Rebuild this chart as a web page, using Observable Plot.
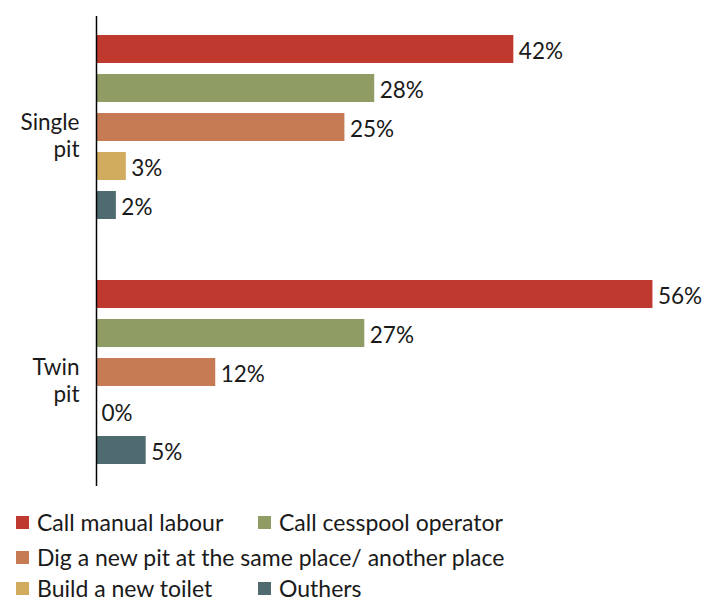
<!DOCTYPE html>
<html>
<head>
<meta charset="utf-8">
<script src="https://cdn.jsdelivr.net/npm/d3@7"></script>
<script src="https://cdn.jsdelivr.net/npm/@observablehq/plot@0.6"></script>
<style>
  body { margin: 0; background: #fff; font-family: Lato, "Open Sans", sans-serif; }
  #chart { position: relative; width: 721px; height: 500px; }
  .legend { position: relative; width: 721px; height: 102px; font-size: 23px; color: #1a1a1a; }
  .row { position: absolute; left: 16px; display: flex; align-items: center; height: 24px; line-height: 24px; }
  .item { display: flex; align-items: center; }
  .sw { width: 13px; height: 13px; margin-right: 8px; flex: none; }
</style>
</head>
<body>
<div id="chart"></div>
<div class="legend" id="legend"></div>
<script>
const groups = ["Single pit", "Twin pit"];
const groupLabels = ["Single\npit", "Twin\npit"];
const categories = [
  "Call manual labour",
  "Call cesspool operator",
  "Dig a new pit at the same place/ another place",
  "Build a new toilet",
  "Outhers"
];
const singlePit = [42, 28, 25, 3, 2];
const twinPit = [56, 27, 12, 0, 5];
const colors = ["#C0392E", "#8F9C63", "#C67B55", "#D1AC5E", "#4F6B70"];

const seriesByGroup = [singlePit, twinPit];
const data = groups.flatMap((g, gi) =>
  categories.map((c, ci) => ({group: g, category: c, value: seriesByGroup[gi][ci]}))
);

const chart = Plot.plot({
  width: 721,
  height: 500,
  marginLeft: 96,
  marginRight: 0,
  marginTop: 21,
  marginBottom: 21,
  style: {fontFamily: "Lato, 'Open Sans', sans-serif", background: "#fff"},
  x: {domain: [0, 62.9], axis: null},
  y: {domain: categories, padding: 0.28, axis: null},
  fy: {domain: groups, paddingInner: 0.1382, paddingOuter: 0, axis: null},
  color: {domain: categories, range: colors},
  marks: [
    Plot.barX(data, {x: "value", y: "category", fy: "group", fill: "category"}),
    Plot.text(data, {
      x: "value", y: "category", fy: "group",
      text: d => d.value + "%",
      textAnchor: "start", dx: 5, dy: 2,
      fontSize: 22.5, fill: "#1a1a1a"
    }),
    Plot.text(groups.map((g, i) => ({group: g, label: groupLabels[i]})), {
      fy: "group", text: "label", frameAnchor: "left",
      textAnchor: "end", dx: -17, dy: 7, lineHeight: 1.2,
      fontSize: 22.5, fill: "#1a1a1a"
    }),
    Plot.ruleX([{group: groups[0]}], {x: 0, fy: "group", insetTop: -6, insetBottom: -17, stroke: "#000", strokeWidth: 1.5}),
    Plot.ruleX([{group: groups[1]}], {x: 0, fy: "group", insetTop: -17, insetBottom: -8, stroke: "#000", strokeWidth: 1.5})
  ]
});
document.getElementById("chart").appendChild(chart);

// Legend: rows as laid out in the reference
const legendRows = [[0, 1], [2], [3, 4]];
const rowCenters = [22, 57, 88];
const legend = document.getElementById("legend");
legendRows.forEach((row, ri) => {
  const r = document.createElement("div");
  r.className = "row";
  r.style.top = (rowCenters[ri] - 12) + "px";
  row.forEach((ci, k) => {
    const it = document.createElement("div");
    it.className = "item";
    if (row.length > 1 && k === 0) it.style.width = "242px";
    const sw = document.createElement("span");
    sw.className = "sw";
    sw.style.background = colors[ci];
    const t = document.createElement("span");
    t.textContent = categories[ci];
    it.appendChild(sw);
    it.appendChild(t);
    r.appendChild(it);
  });
  legend.appendChild(r);
});
</script>
</body>
</html>
